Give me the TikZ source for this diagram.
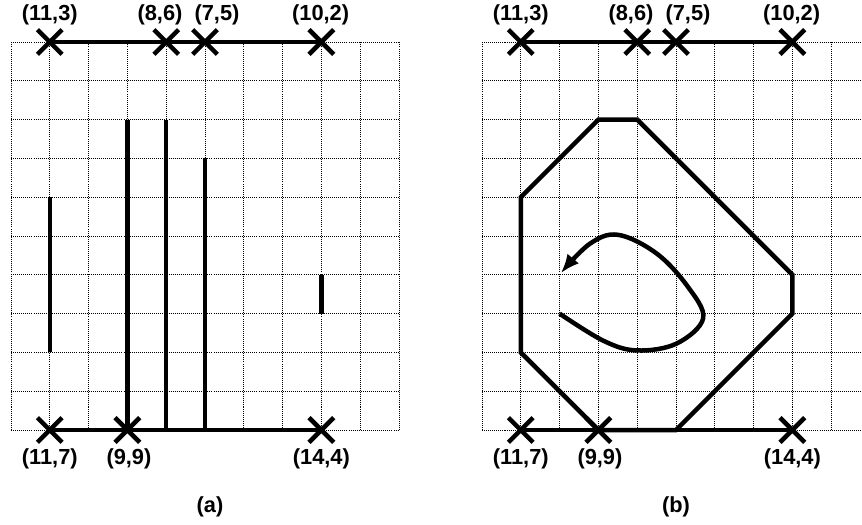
\documentclass[tikz,border=0pt]{standalone}
\usepackage{fontspec}
\setmainfont{Liberation Sans}
\usetikzlibrary{shapes.misc,arrows.meta}
\begin{document}
\begin{tikzpicture}[x=1cm,y=1cm,
  gridline/.style={line width=0.7pt, dash pattern=on 0.75pt off 0.75pt, black},
  thickline/.style={line width=3.3pt},
  xmark/.style={cross out, draw, line width=3.3pt, minimum size=0.52cm, inner sep=0pt},
  lbl/.style={font=\bfseries\fontsize{16}{19}\selectfont, inner sep=0pt}]
\useasboundingbox (-0.2835,1.0825) rectangle (21.933,-12.448);
\begin{scope}
  \clip (-0.2835,1.0825) rectangle (21.933,-12.448);
  \draw[gridline] (0,0) grid (10,-10);
  \begin{scope}[shift={(12.139,0)}]
    \draw[gridline] (0,0) grid (10,-10);
  \end{scope}
\end{scope}
% ---------- panel (a)
\begin{scope}
  \draw[thickline] (1,-4) -- (1,-8);
  \draw[thickline] (3,-2) -- (3,-10);
  \draw[thickline] (4,-2) -- (4,-10);
  \draw[thickline] (5,-3) -- (5,-10);
  \draw[thickline] (8,-6) -- (8,-7);
  \node[xmark] (at1) at (1,0) {};
  \node[xmark] (at2) at (4,0) {};
  \node[xmark] (at3) at (5,0) {};
  \node[xmark] (at4) at (8,0) {};
  \node[xmark] (ab1) at (1,-10) {};
  \node[xmark] (ab2) at (3,-10) {};
  \node[xmark] (ab3) at (8,-10) {};
  \draw[thickline] (at1.center) -- (at4.center);
  \draw[thickline] (ab1.center) -- (ab3.center);
  \node[lbl] (lat1) at (1,0.70) {(11,3)};
  \node[lbl] (lat2) at (3.84,0.70) {(8,6)};
  \node[lbl] (lat3) at (5.31,0.70) {(7,5)};
  \node[lbl] (lat4) at (7.98,0.70) {(10,2)};
  \node[lbl] (lab1) at (1,-10.74) {(11,7)};
  \node[lbl] (lab2) at (3.04,-10.74) {(9,9)};
  \node[lbl] (lab3) at (8,-10.74) {(14,4)};
  \node[lbl] (capa) at (5.13,-11.98) {(a)};
\end{scope}
% ---------- panel (b)
\begin{scope}[shift={(12.139,0)}]
  \draw[thickline, line join=miter] (3,-2) -- (4,-2) -- (8,-6) -- (8,-7) -- (5,-10) -- (3,-10) -- (1,-8) -- (1,-4) -- cycle;
  \draw[thickline, -{Latex[length=14pt,width=11pt]}] plot[smooth, tension=0.6] coordinates {(2,-7) (3.13,-7.7) (4,-7.95) (5.02,-7.77) (5.7,-7.12) (5.3,-6.3) (4.5,-5.45) (3.51,-4.97) (2.78,-5.2) (2.03,-5.96)};
  \node[xmark] (bt1) at (1,0) {};
  \node[xmark] (bt2) at (4,0) {};
  \node[xmark] (bt3) at (5,0) {};
  \node[xmark] (bt4) at (8,0) {};
  \node[xmark] (bb1) at (1,-10) {};
  \node[xmark] (bb2) at (3,-10) {};
  \node[xmark] (bb3) at (8,-10) {};
  \draw[thickline] (bt1.center) -- (bt4.center);
  \draw[thickline] (bb1.center) -- (bb3.center);
  \node[lbl] (lbt1) at (1,0.70) {(11,3)};
  \node[lbl] (lbt2) at (3.84,0.70) {(8,6)};
  \node[lbl] (lbt3) at (5.31,0.70) {(7,5)};
  \node[lbl] (lbt4) at (7.98,0.70) {(10,2)};
  \node[lbl] (lbb1) at (1,-10.74) {(11,7)};
  \node[lbl] (lbb2) at (3.04,-10.74) {(9,9)};
  \node[lbl] (lbb3) at (8,-10.74) {(14,4)};
  \node[lbl] (capb) at (5,-11.98) {(b)};
\end{scope}
\end{tikzpicture}
\end{document}
